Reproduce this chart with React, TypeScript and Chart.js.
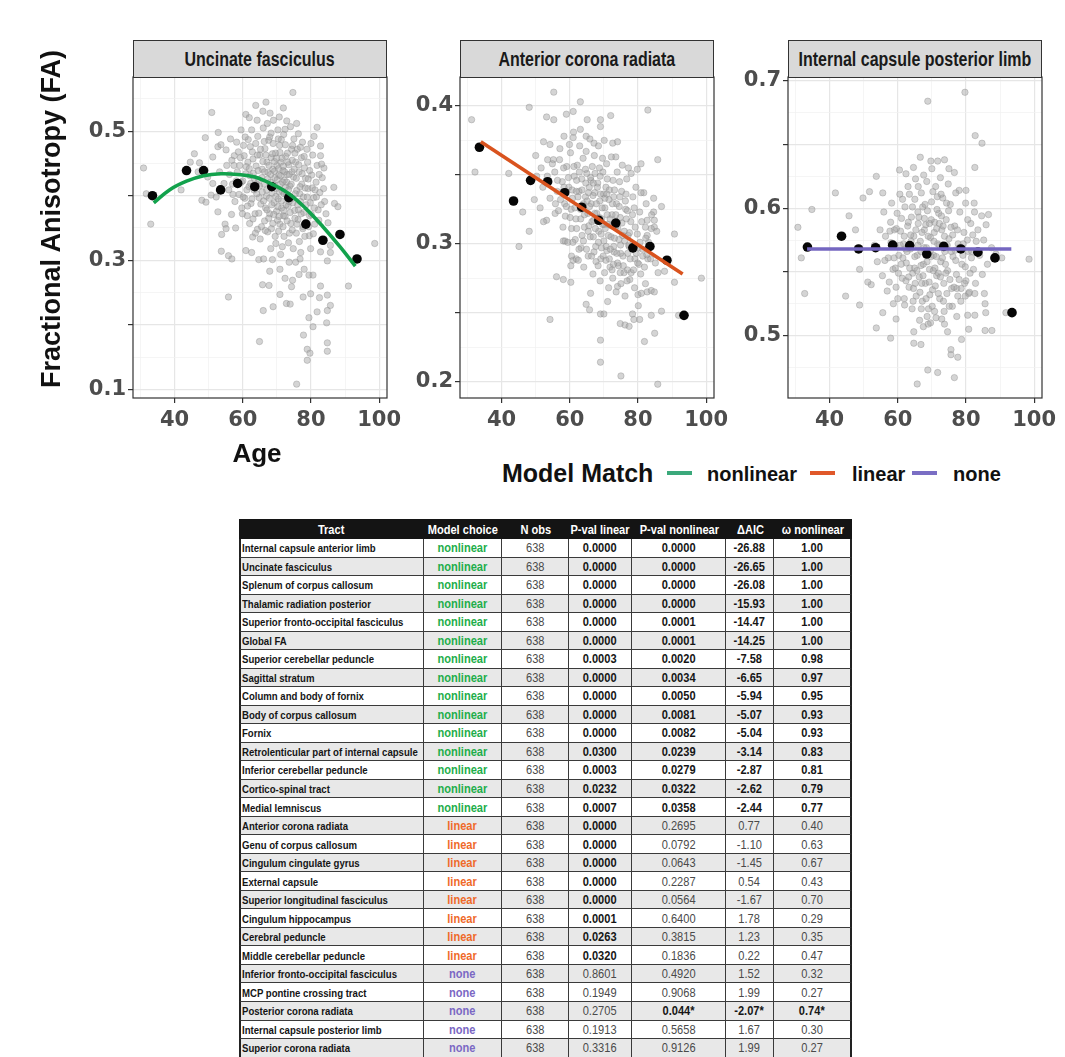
import React, { useEffect, useRef } from 'react';
import { Chart, registerables } from 'chart.js';

Chart.register(...registerables);

// ---------------- DATA ----------------
const AGE_GRID = [30, 40, 50, 60, 70, 80, 90, 100];
const AGE_MAJOR = [40, 60, 80, 100];
const AGE_LABELS = [40, 60, 80, 100];

const BIN_AGES = [33.5, 43.5, 48.5, 53.5, 58.5, 63.5, 68.5, 73.5, 78.5, 83.5, 88.5, 93.5];

// Uncinate fasciculus
const UF_BIN_FA = [0.400, 0.439, 0.439, 0.409, 0.419, 0.414, 0.414, 0.397, 0.356, 0.331, 0.340, 0.302];
const UF_FIT_AGE = [33.9, 38.5, 43.5, 48.5, 53.5, 58.5, 63.5, 68.5, 73.5, 78.5, 83.5, 88.5, 93.0];
const UF_FIT_FA = [0.389, 0.409, 0.4225, 0.431, 0.434, 0.433, 0.429, 0.418, 0.403, 0.380, 0.352, 0.321, 0.291];
const UF_Y_GRID = [0.1, 0.15, 0.2, 0.25, 0.3, 0.35, 0.4, 0.45, 0.5, 0.55];
const UF_Y_MAJOR = [0.1, 0.2, 0.3, 0.4, 0.5];
const UF_Y_LABELS = [0.1, 0.3, 0.5];
const UF_POINTS: number[][] = [
  [30.9, 0.443], [33.0, 0.356], [31.7, 0.403], [50.9, 0.529], [52.8, 0.498], [49.0, 0.490], [41.9, 0.409], [48.0, 0.393],
  [49.2, 0.390], [52.7, 0.375], [54.8, 0.356], [55.1, 0.349], [53.8, 0.340], [57.9, 0.350], [53.7, 0.314], [55.8, 0.307],
  [56.8, 0.302], [55.8, 0.243], [60.9, 0.315], [62.6, 0.312], [64.7, 0.301], [64.9, 0.174], [65.8, 0.262], [67.7, 0.261],
  [66.0, 0.222], [68.9, 0.228], [67.9, 0.283], [70.9, 0.286], [70.9, 0.247], [72.8, 0.233], [73.9, 0.232], [72.4, 0.272],
  [74.3, 0.259], [74.6, 0.269], [75.8, 0.108], [74.7, 0.560], [71.9, 0.536], [66.8, 0.545], [63.8, 0.540], [60.9, 0.526],
  [75.8, 0.512], [81.8, 0.506], [80.9, 0.492], [82.8, 0.477], [82.8, 0.462], [83.8, 0.443], [86.7, 0.413], [86.9, 0.388],
  [87.9, 0.383], [85.0, 0.358], [85.7, 0.323], [85.7, 0.312], [84.8, 0.299], [82.8, 0.313], [82.8, 0.260], [82.5, 0.242],
  [84.8, 0.246], [85.7, 0.230], [84.8, 0.222], [81.8, 0.220], [84.6, 0.203], [80.6, 0.197], [79.4, 0.211], [77.8, 0.184],
  [78.9, 0.162], [79.7, 0.156], [78.9, 0.145], [84.8, 0.172], [84.8, 0.159], [79.9, 0.248], [77.7, 0.243], [79.4, 0.277],
  [80.6, 0.277], [78.0, 0.286], [76.5, 0.278], [91.0, 0.260], [98.7, 0.326], [79.9, 0.318], [76.8, 0.302], [75.5, 0.297],
  [73.6, 0.297], [71.6, 0.321], [69.7, 0.326], [68.7, 0.301], [64.3, 0.348], [62.9, 0.336],
  [45.8, 0.465], [47.3, 0.451], [51.2, 0.460], [52.7, 0.476], [53.6, 0.479], [55.1, 0.471], [49.7, 0.429], [51.2, 0.419],
  [52.2, 0.398], [50.7, 0.401], [56.4, 0.488], [57.5, 0.462], [46.9, 0.437], [44.6, 0.452],
  [60.2, 0.478], [61.5, 0.452], [62.1, 0.431], [62.8, 0.468], [63.3, 0.409], [63.9, 0.446], [64.4, 0.492], [64.6, 0.425],
  [65.0, 0.463], [65.3, 0.387], [65.7, 0.441], [66.0, 0.505], [66.2, 0.418], [66.5, 0.473], [66.9, 0.399], [67.1, 0.452],
  [67.4, 0.436], [67.6, 0.486], [67.9, 0.372], [68.1, 0.421], [68.3, 0.459], [68.6, 0.404], [68.8, 0.441], [69.0, 0.517],
  [69.2, 0.389], [69.4, 0.428], [69.6, 0.466], [69.8, 0.411], [70.0, 0.447], [70.2, 0.362], [70.4, 0.395], [70.6, 0.432],
  [70.8, 0.478], [71.0, 0.418], [71.2, 0.452], [71.4, 0.381], [71.6, 0.407], [71.8, 0.439], [72.0, 0.495], [72.2, 0.424],
  [72.4, 0.368], [72.6, 0.461], [72.8, 0.401], [73.0, 0.433], [73.3, 0.384], [73.5, 0.448], [73.8, 0.415], [74.1, 0.357],
  [74.3, 0.472], [74.6, 0.396], [74.9, 0.429], [75.2, 0.377], [75.5, 0.452], [75.8, 0.408], [76.2, 0.363], [76.5, 0.437],
  [76.9, 0.391], [77.3, 0.418], [77.7, 0.352], [78.1, 0.443], [78.6, 0.386], [79.1, 0.411], [79.6, 0.369], [80.2, 0.432],
  [80.8, 0.397], [81.5, 0.421], [82.1, 0.378],
  [58.4, 0.437], [58.9, 0.402], [59.3, 0.459], [59.7, 0.381], [60.0, 0.423], [60.6, 0.396], [61.0, 0.445], [61.3, 0.369],
  [61.8, 0.414], [62.4, 0.388], [62.6, 0.502], [63.1, 0.435], [63.6, 0.372], [64.0, 0.418], [64.8, 0.397], [65.5, 0.352],
  [66.7, 0.381], [67.2, 0.512], [67.8, 0.396], [68.4, 0.349], [68.9, 0.481], [69.3, 0.453], [69.9, 0.376], [70.3, 0.502],
  [70.9, 0.356], [71.3, 0.487], [71.9, 0.369], [72.5, 0.413], [73.1, 0.466], [73.7, 0.342], [74.4, 0.437], [75.0, 0.488],
  [75.7, 0.342], [76.0, 0.472], [76.7, 0.403], [77.2, 0.459], [77.9, 0.374], [78.4, 0.427], [79.0, 0.452], [79.5, 0.338],
  [80.5, 0.463], [81.1, 0.356], [81.8, 0.447], [82.6, 0.405], [83.3, 0.428], [84.0, 0.391], [57.0, 0.418], [56.1, 0.433],
  [55.3, 0.447], [54.5, 0.419], [53.2, 0.437], [57.7, 0.391], [56.7, 0.371], [59.5, 0.502], [58.2, 0.483], [61.9, 0.521],
  [64.2, 0.517], [65.9, 0.531], [68.0, 0.528], [70.7, 0.522], [72.9, 0.516], [74.0, 0.507], [76.3, 0.496], [77.5, 0.483],
  [78.8, 0.472], [80.0, 0.481], [62.0, 0.357], [63.7, 0.342], [65.1, 0.333], [66.4, 0.361], [67.3, 0.344], [69.5, 0.337],
  [70.5, 0.345], [72.1, 0.337], [73.4, 0.327], [74.8, 0.318], [76.6, 0.329], [78.2, 0.337], [77.0, 0.312], [68.2, 0.318],
  [66.1, 0.302], [71.1, 0.309],
  [59.1, 0.447], [59.6, 0.421], [60.1, 0.398], [60.4, 0.462], [60.9, 0.434], [61.2, 0.409], [61.6, 0.487], [61.9, 0.442],
  [62.3, 0.419], [62.7, 0.395], [63.0, 0.457], [63.4, 0.427], [63.8, 0.481], [64.1, 0.403], [64.5, 0.439], [64.9, 0.415],
  [65.2, 0.472], [65.6, 0.428], [65.9, 0.453], [66.1, 0.392], [66.4, 0.437], [66.8, 0.463], [67.0, 0.409], [67.3, 0.426],
  [67.7, 0.447], [67.9, 0.491], [68.2, 0.433], [68.5, 0.386], [68.7, 0.465], [69.1, 0.417], [69.3, 0.438], [69.7, 0.399],
  [69.9, 0.458], [70.1, 0.425], [70.3, 0.383], [70.5, 0.442], [70.7, 0.406], [70.9, 0.467], [71.1, 0.431], [71.3, 0.392],
  [71.5, 0.458], [71.7, 0.421], [71.9, 0.446], [72.1, 0.403], [72.3, 0.437], [72.5, 0.479], [72.7, 0.386], [72.9, 0.421],
  [73.2, 0.452], [73.4, 0.409], [73.6, 0.433], [73.9, 0.374], [74.2, 0.418], [74.5, 0.455], [74.7, 0.389], [75.1, 0.441],
  [75.4, 0.403], [75.7, 0.427], [76.1, 0.386], [76.4, 0.448], [76.8, 0.414], [77.1, 0.372], [77.4, 0.434], [77.8, 0.398],
  [78.3, 0.412], [78.7, 0.358], [79.2, 0.426], [79.8, 0.389], [80.4, 0.412], [81.0, 0.381], [81.6, 0.398], [82.3, 0.362],
  [83.0, 0.386], [83.7, 0.411], [84.4, 0.372], [66.3, 0.484], [68.3, 0.497], [70.4, 0.488], [72.4, 0.503], [74.6, 0.478],
  [64.3, 0.463], [62.2, 0.476], [60.7, 0.491], [58.7, 0.468], [57.4, 0.447], [56.8, 0.455], [55.9, 0.409], [57.1, 0.402],
  [58.1, 0.423], [59.9, 0.372], [61.4, 0.384], [63.0, 0.364], [64.7, 0.373], [66.6, 0.346], [67.6, 0.365], [68.8, 0.357],
  [70.6, 0.368], [71.8, 0.352], [73.0, 0.361], [74.5, 0.347], [75.9, 0.356], [77.6, 0.349], [79.3, 0.352], [80.7, 0.341],
  [65.7, 0.406], [67.1, 0.378], [69.1, 0.371], [72.0, 0.377], [73.6, 0.391], [75.3, 0.365], [76.3, 0.378], [78.9, 0.398],
  [80.1, 0.371], [81.2, 0.409], [82.4, 0.433], [83.1, 0.449], [79.6, 0.439], [78.0, 0.461], [76.9, 0.475], [75.3, 0.466],
];

// Anterior corona radiata
const ACR_BIN_FA = [0.370, 0.331, 0.346, 0.345, 0.337, 0.3265, 0.317, 0.315, 0.297, 0.298, 0.288, 0.248];
const ACR_FIT_AGE = [33.9, 93.1];
const ACR_FIT_FA = [0.374, 0.278];
const ACR_Y_GRID = [0.2, 0.225, 0.25, 0.275, 0.3, 0.325, 0.35, 0.375, 0.4];
const ACR_Y_MAJOR = [0.2, 0.25, 0.3, 0.35, 0.4];
const ACR_Y_LABELS = [0.2, 0.3, 0.4];
const ACR_POINTS: number[][] = [
  [31.2, 0.390], [32.2, 0.352], [42.1, 0.351], [46.2, 0.323], [48.1, 0.399], [48.1, 0.309], [45.1, 0.298], [50.0, 0.364],
  [53.2, 0.392], [55.3, 0.410], [55.3, 0.390], [59.0, 0.394], [61.0, 0.396], [63.1, 0.403], [65.1, 0.390], [69.0, 0.390],
  [69.0, 0.385], [72.0, 0.393], [82.9, 0.397], [85.8, 0.361], [54.2, 0.245], [90.7, 0.307], [90.7, 0.272], [98.6, 0.275],
  [91.9, 0.248], [86.9, 0.251], [83.9, 0.248], [84.9, 0.235], [81.9, 0.229], [85.8, 0.198], [75.0, 0.204], [69.0, 0.214],
  [69.0, 0.230], [69.0, 0.249], [70.0, 0.249], [65.8, 0.252], [64.8, 0.256], [66.1, 0.264], [71.1, 0.258], [74.0, 0.269],
  [74.8, 0.242], [76.2, 0.241], [77.4, 0.240], [78.4, 0.249], [80.5, 0.245], [78.8, 0.245], [80.1, 0.255], [80.0, 0.263],
  [81.0, 0.264], [82.7, 0.265], [83.9, 0.266], [84.8, 0.265], [82.2, 0.271], [85.9, 0.279], [87.8, 0.280], [85.1, 0.286],
  [82.9, 0.289], [60.5, 0.311], [58.1, 0.302], [58.6, 0.302], [56.1, 0.276], [58.1, 0.274], [60.3, 0.272], [60.3, 0.284],
  [61.0, 0.288], [61.9, 0.289], [53.2, 0.317], [52.3, 0.316], [55.7, 0.322], [58.7, 0.320], [49.6, 0.332], [51.3, 0.326],
  [50.3, 0.349], [51.6, 0.355], [53.5, 0.361], [55.2, 0.361], [57.1, 0.369], [54.2, 0.372], [52.3, 0.374], [58.3, 0.378],
  [61.0, 0.377], [63.1, 0.383], [64.8, 0.378], [67.1, 0.373], [70.1, 0.375], [72.6, 0.373], [74.0, 0.374], [73.5, 0.363],
  [77.2, 0.355], [79.8, 0.354], [80.9, 0.358], [81.7, 0.337], [84.6, 0.333], [86.9, 0.327], [84.6, 0.323], [84.8, 0.317],
  [84.8, 0.312], [82.7, 0.317], [82.7, 0.306],
  [55.6, 0.352], [56.3, 0.338], [57.0, 0.361], [57.8, 0.345], [58.5, 0.329], [59.1, 0.356], [59.7, 0.341], [60.2, 0.366],
  [60.8, 0.333], [61.3, 0.349], [61.8, 0.318], [62.2, 0.357], [62.7, 0.338], [63.1, 0.325], [63.5, 0.347], [63.9, 0.362],
  [64.3, 0.312], [64.6, 0.334], [65.0, 0.351], [65.3, 0.322], [65.7, 0.341], [66.0, 0.305], [66.3, 0.329], [66.6, 0.356],
  [67.0, 0.317], [67.3, 0.337], [67.6, 0.298], [67.9, 0.322], [68.2, 0.344], [68.5, 0.309], [68.8, 0.331], [69.1, 0.289],
  [69.4, 0.318], [69.7, 0.352], [70.0, 0.302], [70.3, 0.326], [70.6, 0.341], [70.9, 0.295], [71.2, 0.314], [71.5, 0.332],
  [71.8, 0.283], [72.1, 0.305], [72.4, 0.321], [72.7, 0.346], [73.0, 0.294], [73.3, 0.312], [73.7, 0.329], [74.0, 0.286],
  [74.4, 0.303], [74.8, 0.319], [75.2, 0.338], [75.6, 0.291], [76.0, 0.309], [76.4, 0.325], [76.9, 0.281], [77.4, 0.298],
  [77.9, 0.316], [78.5, 0.334], [79.1, 0.289], [79.8, 0.307], [80.5, 0.323], [81.3, 0.296], [82.2, 0.312], [83.1, 0.301],
  [52.1, 0.341], [53.4, 0.349], [54.2, 0.333], [54.9, 0.358], [56.7, 0.324], [58.0, 0.312], [59.4, 0.301], [60.5, 0.291],
  [61.6, 0.303], [62.5, 0.288], [63.3, 0.297], [64.1, 0.283], [65.4, 0.291], [66.8, 0.278], [67.7, 0.287], [68.9, 0.273],
  [70.2, 0.279], [71.4, 0.268], [72.6, 0.275], [73.6, 0.265], [75.0, 0.271], [76.2, 0.262], [77.6, 0.274], [79.0, 0.268],
  [80.8, 0.278], [59.9, 0.372], [61.1, 0.381], [62.9, 0.371], [64.8, 0.367], [65.9, 0.376], [67.2, 0.364], [68.4, 0.371],
  [69.6, 0.362], [70.8, 0.358], [72.2, 0.363], [73.9, 0.352], [75.4, 0.357], [76.7, 0.347], [78.0, 0.351], [79.4, 0.341],
  [80.9, 0.337], [82.4, 0.329], [84.0, 0.321], [85.5, 0.309], [83.7, 0.289], [81.9, 0.283], [66.2, 0.346], [68.7, 0.355],
  [71.0, 0.347], [73.1, 0.339], [74.6, 0.345], [76.5, 0.336], [78.9, 0.326], [77.1, 0.306], [75.9, 0.279], [74.3, 0.284],
  [69.9, 0.336], [67.4, 0.351], [64.0, 0.329], [62.0, 0.346], [60.4, 0.325], [58.8, 0.338], [65.6, 0.313], [70.4, 0.311],
  [72.9, 0.298], [69.3, 0.297], [66.9, 0.305], [63.6, 0.306], [71.6, 0.289], [74.9, 0.293], [77.7, 0.289], [80.1, 0.297],
  [58.3, 0.341], [59.0, 0.327], [59.6, 0.348], [60.1, 0.319], [60.7, 0.339], [61.2, 0.356], [61.5, 0.326], [62.0, 0.311],
  [62.4, 0.334], [62.8, 0.352], [63.2, 0.318], [63.6, 0.339], [64.0, 0.302], [64.3, 0.321], [64.7, 0.344], [65.1, 0.331],
  [65.4, 0.309], [65.8, 0.327], [66.1, 0.348], [66.5, 0.316], [66.8, 0.335], [67.1, 0.294], [67.5, 0.311], [67.8, 0.329],
  [68.1, 0.341], [68.4, 0.301], [68.7, 0.319], [69.0, 0.336], [69.2, 0.307], [69.5, 0.326], [69.8, 0.291], [70.1, 0.314],
  [70.3, 0.333], [70.7, 0.298], [71.0, 0.321], [71.3, 0.306], [71.6, 0.339], [71.9, 0.296], [72.2, 0.313], [72.5, 0.329],
  [72.8, 0.285], [73.1, 0.304], [73.5, 0.321], [73.8, 0.293], [74.1, 0.311], [74.5, 0.327], [74.9, 0.299], [75.3, 0.315],
  [75.7, 0.284], [76.1, 0.302], [76.6, 0.318], [77.0, 0.293], [77.5, 0.308], [78.0, 0.279], [78.6, 0.296], [79.2, 0.312],
  [79.9, 0.286], [80.6, 0.301], [81.4, 0.291], [82.3, 0.304], [61.9, 0.338], [63.8, 0.327], [65.5, 0.337], [67.3, 0.322],
  [69.6, 0.314], [71.8, 0.318], [73.4, 0.312], [75.5, 0.306], [77.3, 0.299], [79.5, 0.293], [64.6, 0.354], [66.9, 0.344],
  [68.9, 0.349], [70.9, 0.336], [72.9, 0.334], [74.7, 0.334], [76.9, 0.324], [58.2, 0.355], [57.3, 0.332], [56.4, 0.346],
  [55.8, 0.329], [60.9, 0.301], [62.7, 0.296], [64.9, 0.296], [66.4, 0.291], [68.3, 0.284], [70.6, 0.288], [72.4, 0.281],
  [74.8, 0.279], [76.8, 0.273], [78.7, 0.281], [80.3, 0.285], [82.6, 0.292], [83.9, 0.311], [81.1, 0.316], [78.4, 0.321],
  [76.3, 0.331],
];

// Internal capsule posterior limb
const ICPL_BIN_FA = [0.5695, 0.578, 0.568, 0.569, 0.571, 0.5707, 0.564, 0.570, 0.568, 0.5655, 0.561, 0.518];
const ICPL_FIT_AGE = [33.4, 93.3];
const ICPL_FIT_FA = [0.568, 0.568];
const ICPL_Y_GRID = [0.475, 0.5, 0.525, 0.55, 0.575, 0.6, 0.625, 0.65, 0.675, 0.7];
const ICPL_Y_MAJOR = [0.5, 0.55, 0.6, 0.65, 0.7];
const ICPL_Y_LABELS = [0.5, 0.6, 0.7];
const ICPL_POINTS: number[][] = [
  [30.7, 0.585], [31.7, 0.561], [32.7, 0.533], [34.8, 0.599], [41.7, 0.612], [45.7, 0.594], [44.7, 0.531], [47.6, 0.583],
  [48.8, 0.552], [48.8, 0.524], [49.8, 0.608], [51.7, 0.613], [53.7, 0.625], [53.7, 0.506], [52.2, 0.540], [51.2, 0.542],
  [55.6, 0.612], [57.9, 0.498], [58.7, 0.525], [55.6, 0.518], [59.5, 0.513], [60.5, 0.630], [62.4, 0.627], [64.6, 0.632],
  [66.6, 0.640], [68.8, 0.684], [79.7, 0.691], [82.7, 0.657], [84.7, 0.651], [82.6, 0.632], [69.7, 0.637], [71.7, 0.637],
  [73.7, 0.638], [75.0, 0.631], [76.6, 0.628], [78.0, 0.614], [80.0, 0.614], [82.4, 0.604], [84.6, 0.594], [86.6, 0.595],
  [85.9, 0.587], [88.8, 0.564], [90.5, 0.561], [98.5, 0.560], [91.7, 0.518], [85.6, 0.504], [87.6, 0.504], [85.8, 0.518],
  [85.6, 0.525], [82.6, 0.516], [80.5, 0.516], [80.8, 0.505], [78.7, 0.497], [77.6, 0.483], [76.6, 0.467], [75.6, 0.489],
  [75.6, 0.485], [74.6, 0.503], [73.7, 0.509], [71.7, 0.471], [68.8, 0.473], [65.7, 0.462], [66.8, 0.493], [64.7, 0.494],
  [64.7, 0.503], [67.5, 0.507], [69.6, 0.510], [77.3, 0.515], [79.8, 0.531], [80.8, 0.533], [82.6, 0.533], [85.4, 0.533],
  [77.3, 0.537],
  [56.4, 0.578], [57.2, 0.561], [57.9, 0.589], [58.6, 0.552], [59.2, 0.571], [59.8, 0.596], [60.3, 0.563], [60.8, 0.582],
  [61.3, 0.545], [61.7, 0.572], [62.1, 0.601], [62.5, 0.557], [62.9, 0.586], [63.3, 0.538], [63.7, 0.568], [64.0, 0.593],
  [64.4, 0.549], [64.7, 0.578], [65.0, 0.607], [65.4, 0.531], [65.7, 0.563], [66.0, 0.588], [66.3, 0.546], [66.6, 0.574],
  [66.9, 0.612], [67.2, 0.527], [67.5, 0.556], [67.8, 0.583], [68.1, 0.541], [68.4, 0.569], [68.7, 0.598], [69.0, 0.521],
  [69.3, 0.552], [69.6, 0.577], [69.9, 0.605], [70.2, 0.536], [70.5, 0.563], [70.8, 0.589], [71.1, 0.617], [71.4, 0.547],
  [71.7, 0.572], [72.0, 0.596], [72.3, 0.529], [72.6, 0.558], [72.9, 0.583], [73.2, 0.608], [73.5, 0.541], [73.8, 0.566],
  [74.2, 0.591], [74.6, 0.551], [75.0, 0.576], [75.4, 0.603], [75.8, 0.537], [76.2, 0.562], [76.7, 0.586], [77.2, 0.548],
  [77.7, 0.572], [78.2, 0.597], [78.8, 0.556], [79.4, 0.581], [80.0, 0.543], [80.7, 0.566], [81.4, 0.588], [82.2, 0.552],
  [83.0, 0.574],
  [53.2, 0.571], [54.0, 0.558], [54.8, 0.583], [55.5, 0.547], [56.9, 0.535], [58.2, 0.604], [59.5, 0.538], [60.6, 0.611],
  [61.9, 0.529], [63.0, 0.617], [64.2, 0.521], [65.2, 0.623], [66.4, 0.512], [67.6, 0.626], [68.9, 0.509], [70.0, 0.631],
  [71.2, 0.514], [72.5, 0.624], [73.6, 0.519], [74.8, 0.619], [76.0, 0.523], [77.0, 0.612], [78.5, 0.527], [79.9, 0.604],
  [81.0, 0.534], [82.5, 0.597], [84.0, 0.563], [85.2, 0.575], [86.3, 0.556], [87.5, 0.569], [55.9, 0.597], [57.5, 0.542],
  [59.0, 0.583], [61.0, 0.556], [63.8, 0.579], [65.9, 0.597], [67.0, 0.541], [68.2, 0.587], [69.4, 0.532], [70.6, 0.574],
  [71.9, 0.549], [73.0, 0.571], [74.4, 0.533], [75.6, 0.585], [76.8, 0.567], [78.0, 0.544], [79.1, 0.563], [80.4, 0.575],
  [81.7, 0.566], [82.8, 0.541], [69.8, 0.562], [70.9, 0.553], [68.0, 0.566], [66.8, 0.555], [72.2, 0.588], [74.0, 0.556],
  [62.3, 0.568], [64.9, 0.553], [67.3, 0.601], [71.5, 0.599],
  [58.0, 0.573], [58.9, 0.561], [59.6, 0.584], [60.2, 0.549], [60.7, 0.571], [61.1, 0.592], [61.5, 0.561], [61.9, 0.578],
  [62.4, 0.543], [62.7, 0.566], [63.1, 0.589], [63.5, 0.553], [63.9, 0.574], [64.3, 0.601], [64.6, 0.537], [65.0, 0.562],
  [65.3, 0.583], [65.6, 0.551], [65.9, 0.571], [66.2, 0.593], [66.5, 0.534], [66.8, 0.566], [67.1, 0.581], [67.4, 0.547],
  [67.7, 0.569], [68.0, 0.603], [68.3, 0.529], [68.6, 0.558], [68.9, 0.578], [69.2, 0.542], [69.5, 0.566], [69.8, 0.591],
  [70.1, 0.523], [70.4, 0.551], [70.7, 0.581], [71.0, 0.539], [71.3, 0.562], [71.6, 0.609], [71.9, 0.533], [72.2, 0.571],
  [72.5, 0.546], [72.8, 0.594], [73.1, 0.561], [73.4, 0.527], [73.7, 0.578], [74.1, 0.549], [74.5, 0.571], [74.9, 0.598],
  [75.3, 0.544], [75.7, 0.566], [76.1, 0.579], [76.5, 0.538], [77.0, 0.559], [77.5, 0.583], [78.0, 0.569], [78.6, 0.537],
  [79.2, 0.572], [79.8, 0.554], [80.5, 0.591], [81.2, 0.549], [82.0, 0.579], [66.0, 0.617], [68.5, 0.621], [70.3, 0.613],
  [72.7, 0.611], [74.3, 0.604], [63.4, 0.611], [61.4, 0.607], [59.3, 0.553], [57.7, 0.582], [56.2, 0.559], [60.0, 0.529],
  [62.0, 0.524], [64.5, 0.527], [66.9, 0.521], [68.6, 0.515], [70.8, 0.519], [72.9, 0.513], [75.1, 0.523], [77.6, 0.531],
  [79.6, 0.541], [81.6, 0.561], [83.5, 0.583], [84.8, 0.548], [69.3, 0.588], [71.4, 0.584], [73.3, 0.586], [67.8, 0.592],
  [65.1, 0.541], [63.2, 0.546],
];

// Legend
const LEGEND_TITLE = 'Model Match';
const LEGEND_ITEMS = ['nonlinear', 'linear', 'none'];

// Table
const TABLE_HEADERS = ['Tract', 'Model choice', 'N obs', 'P-val linear', 'P-val nonlinear', '\u0394AIC', '\u03c9 nonlinear'];
const TRACTS = [
  'Internal capsule anterior limb', 'Uncinate fasciculus', 'Splenum of corpus callosum', 'Thalamic radiation posterior',
  'Superior fronto-occipital fasciculus', 'Global FA', 'Superior cerebellar peduncle', 'Sagittal stratum',
  'Column and body of fornix', 'Body of corpus callosum', 'Fornix', 'Retrolenticular part of internal capsule',
  'Inferior cerebellar peduncle', 'Cortico-spinal tract', 'Medial lemniscus', 'Anterior corona radiata',
  'Genu of corpus callosum', 'Cingulum cingulate gyrus', 'External capsule', 'Superior longitudinal fasciculus',
  'Cingulum hippocampus', 'Cerebral peduncle', 'Middle cerebellar peduncle', 'Inferior fronto-occipital fasciculus',
  'MCP pontine crossing tract', 'Posterior corona radiata', 'Internal capsule posterior limb', 'Superior corona radiata',
];
const MODEL_CHOICE = [
  'nonlinear', 'nonlinear', 'nonlinear', 'nonlinear', 'nonlinear', 'nonlinear', 'nonlinear', 'nonlinear',
  'nonlinear', 'nonlinear', 'nonlinear', 'nonlinear', 'nonlinear', 'nonlinear', 'nonlinear', 'linear',
  'linear', 'linear', 'linear', 'linear', 'linear', 'linear', 'linear', 'none',
  'none', 'none', 'none', 'none',
];
const N_OBS = [638, 638, 638, 638, 638, 638, 638, 638, 638, 638, 638, 638, 638, 638, 638, 638, 638, 638, 638, 638, 638, 638, 638, 638, 638, 638, 638, 638];
const P_LINEAR = [
  '0.0000', '0.0000', '0.0000', '0.0000', '0.0000', '0.0000', '0.0003', '0.0000', '0.0000', '0.0000', '0.0000', '0.0300',
  '0.0003', '0.0232', '0.0007', '0.0000', '0.0000', '0.0000', '0.0000', '0.0000', '0.0001', '0.0263', '0.0320', '0.8601',
  '0.1949', '0.2705', '0.1913', '0.3316',
];
const P_NONLINEAR = [
  '0.0000', '0.0000', '0.0000', '0.0000', '0.0001', '0.0001', '0.0020', '0.0034', '0.0050', '0.0081', '0.0082', '0.0239',
  '0.0279', '0.0322', '0.0358', '0.2695', '0.0792', '0.0643', '0.2287', '0.0564', '0.6400', '0.3815', '0.1836', '0.4920',
  '0.9068', '0.044*', '0.5658', '0.9126',
];
const DELTA_AIC = [
  '-26.88', '-26.65', '-26.08', '-15.93', '-14.47', '-14.25', '-7.58', '-6.65', '-5.94', '-5.07', '-5.04', '-3.14',
  '-2.87', '-2.62', '-2.44', '0.77', '-1.10', '-1.45', '0.54', '-1.67', '1.78', '1.23', '0.22', '1.52',
  '1.99', '-2.07*', '1.67', '1.99',
];
const OMEGA_NONLINEAR = [
  '1.00', '1.00', '1.00', '1.00', '1.00', '1.00', '0.98', '0.97', '0.95', '0.93', '0.93', '0.83',
  '0.81', '0.79', '0.77', '0.40', '0.63', '0.67', '0.43', '0.70', '0.29', '0.35', '0.47', '0.32',
  '0.27', '0.74*', '0.30', '0.27',
];

// ---------------- STYLE ----------------
const LINE_COLORS: Record<string, string> = { nonlinear: '#12a24c', linear: '#d9531e', none: '#7466c0' };
const LEGEND_COLORS: Record<string, string> = { nonlinear: '#3ba97b', linear: '#e0582a', none: '#7a6ec4' };
const TABLE_COLORS: Record<string, string> = { nonlinear: '#1eae4b', linear: '#ef6a2a', none: '#7b68c4' };

const SANS = '"Liberation Sans", Arial, sans-serif';
const TICK_FONT = 'DejaVu Sans';
const NARROW_SCALE = 0.82;

const PLOT_TOP = 77;
const PLOT_W = 254;
const PLOT_H = 321;
const YAXIS_W = 70;
const XAXIS_H = 45;
const PAD_TOP = 20;
const PAD_RIGHT = 26;
const X_MIN = 27.8;
const X_MAX = 102.3;

const near = (a: number, list: number[]) => list.some((v) => Math.abs(v - a) < 1e-6);

function Narrow({ children, origin = 'center' }: { children: any; origin?: string }) {
  return (
    <span style={{ display: 'inline-block', transform: `scaleX(${NARROW_SCALE})`, transformOrigin: origin, whiteSpace: 'nowrap' }}>
      {children}
    </span>
  );
}

const borderPlugin = {
  id: 'panelBorder',
  afterDraw(chart: any) {
    const { ctx, chartArea: a } = chart;
    ctx.save();
    ctx.strokeStyle = '#333333';
    ctx.lineWidth = 1.2;
    ctx.strokeRect(a.left, a.top, a.right - a.left, a.bottom - a.top);
    ctx.restore();
  },
};

type PanelCfg = {
  title: string;
  left: number;
  yMin: number;
  yMax: number;
  yGrid: number[];
  yMajor: number[];
  yLabels: number[];
  points: number[][];
  binFA: number[];
  fitAge: number[];
  fitFA: number[];
  color: string;
  tension: number;
};

function Panel({ cfg }: { cfg: PanelCfg }) {
  const ref = useRef<HTMLCanvasElement>(null);
  const W = YAXIS_W + PLOT_W + PAD_RIGHT;
  const H = PAD_TOP + PLOT_H + XAXIS_H;
  useEffect(() => {
    if (!ref.current) return;
    const tickFont = { family: TICK_FONT, weight: 'bold' as const, size: 21 };
    const chart = new Chart(ref.current, {
      type: 'scatter',
      data: {
        datasets: [
          {
            type: 'line',
            data: cfg.fitAge.map((x, i) => ({ x, y: cfg.fitFA[i] })),
            borderColor: cfg.color,
            borderWidth: 3.6,
            pointRadius: 0,
            tension: cfg.tension,
            fill: false,
            order: 0,
          } as any,
          {
            data: BIN_AGES.map((x, i) => ({ x, y: cfg.binFA[i] })),
            backgroundColor: '#050505',
            borderWidth: 0,
            pointRadius: 4.8,
            order: 1,
          },
          {
            data: cfg.points.map(([x, y]) => ({ x, y })),
            backgroundColor: 'rgba(165,165,165,0.48)',
            borderColor: 'rgba(135,135,135,0.45)',
            borderWidth: 0.8,
            pointRadius: 3.2,
            order: 2,
          },
        ],
      },
      options: {
        animation: false,
        responsive: false,
        maintainAspectRatio: false,
        layout: { padding: { top: PAD_TOP, right: PAD_RIGHT, left: 0, bottom: 0 } },
        plugins: { legend: { display: false }, tooltip: { enabled: false } },
        events: [],
        scales: {
          x: {
            type: 'linear',
            min: X_MIN,
            max: X_MAX,
            afterBuildTicks: (s: any) => { s.ticks = AGE_GRID.map((v) => ({ value: v })); },
            afterFit: (s: any) => { s.height = XAXIS_H; },
            border: { display: false },
            grid: {
              color: (c: any) => (near(c.tick?.value, AGE_MAJOR) ? '#e6e6e6' : '#f1f1f1'),
              lineWidth: (c: any) => (near(c.tick?.value, AGE_MAJOR) ? 1.2 : 0.7),
              tickColor: (c: any) => (near(c.tick?.value, AGE_MAJOR) ? '#333333' : 'rgba(0,0,0,0)'),
              tickLength: 5,
            },
            ticks: {
              autoSkip: false,
              maxRotation: 0,
              minRotation: 0,
              padding: 5,
              color: '#4d4d4d',
              font: tickFont,
              callback: (v: any) => (near(Number(v), AGE_LABELS) ? String(v) : ''),
            },
          },
          y: {
            type: 'linear',
            min: cfg.yMin,
            max: cfg.yMax,
            afterBuildTicks: (s: any) => { s.ticks = cfg.yGrid.map((v) => ({ value: v })); },
            afterFit: (s: any) => { s.width = YAXIS_W; },
            border: { display: false },
            grid: {
              color: (c: any) => (near(c.tick?.value, cfg.yMajor) ? '#e6e6e6' : '#f1f1f1'),
              lineWidth: (c: any) => (near(c.tick?.value, cfg.yMajor) ? 1.2 : 0.7),
              tickColor: (c: any) => (near(c.tick?.value, cfg.yMajor) ? '#333333' : 'rgba(0,0,0,0)'),
              tickLength: 5,
            },
            ticks: {
              autoSkip: false,
              padding: 2,
              color: '#4d4d4d',
              font: tickFont,
              callback: (v: any) => (near(Number(v), cfg.yLabels) ? Number(v).toFixed(1) : ''),
            },
          },
        },
      },
      plugins: [borderPlugin],
    });
    return () => chart.destroy();
  }, []);
  return (
    <>
      <canvas
        ref={ref}
        width={W}
        height={H}
        style={{ position: 'absolute', left: cfg.left - YAXIS_W, top: PLOT_TOP - PAD_TOP, width: W, height: H }}
      />
      <div
        style={{
          position: 'absolute',
          left: cfg.left,
          top: 40,
          width: PLOT_W,
          height: 38,
          boxSizing: 'border-box',
          background: '#d9d9d9',
          border: '1.2px solid #333',
          display: 'flex',
          alignItems: 'center',
          justifyContent: 'center',
          fontFamily: SANS,
          fontWeight: 'bold',
          fontSize: 19.5,
          color: '#1a1a1a',
          whiteSpace: 'nowrap',
        }}
      >
        <Narrow>{cfg.title}</Narrow>
      </div>
    </>
  );
}

const PANELS: PanelCfg[] = [
  {
    title: 'Uncinate fasciculus', left: 133, yMin: 0.0865, yMax: 0.584,
    yGrid: UF_Y_GRID, yMajor: UF_Y_MAJOR, yLabels: UF_Y_LABELS, points: UF_POINTS, binFA: UF_BIN_FA,
    fitAge: UF_FIT_AGE, fitFA: UF_FIT_FA, color: LINE_COLORS.nonlinear, tension: 0.4,
  },
  {
    title: 'Anterior corona radiata', left: 460, yMin: 0.188, yMax: 0.421,
    yGrid: ACR_Y_GRID, yMajor: ACR_Y_MAJOR, yLabels: ACR_Y_LABELS, points: ACR_POINTS, binFA: ACR_BIN_FA,
    fitAge: ACR_FIT_AGE, fitFA: ACR_FIT_FA, color: LINE_COLORS.linear, tension: 0,
  },
  {
    title: 'Internal capsule posterior limb', left: 788, yMin: 0.451, yMax: 0.703,
    yGrid: ICPL_Y_GRID, yMajor: ICPL_Y_MAJOR, yLabels: ICPL_Y_LABELS, points: ICPL_POINTS, binFA: ICPL_BIN_FA,
    fitAge: ICPL_FIT_AGE, fitFA: ICPL_FIT_FA, color: LINE_COLORS.none, tension: 0,
  },
];

const COL_W = [185, 78, 67, 63, 94, 48, 78];
const ROW_H = 18.52;
const TABLE_LEFT = 239;
const TABLE_TOP = 519;
const HEADER_H = 20;

function Cell({ w, children, style, last }: { w: number; children: any; style?: any; last?: boolean }) {
  return (
    <div
      style={{
        width: w,
        flex: 'none',
        boxSizing: 'border-box',
        borderRight: last ? 'none' : '1px solid #3a3a3a',
        height: '100%',
        display: 'flex',
        alignItems: 'center',
        justifyContent: 'center',
        whiteSpace: 'nowrap',
        overflow: 'hidden',
        ...style,
      }}
    >
      {children}
    </div>
  );
}

function Table() {
  const total = COL_W.reduce((a, b) => a + b, 0);
  return (
    <div style={{ position: 'absolute', left: TABLE_LEFT, top: TABLE_TOP, width: total }}>
      <div
        style={{
          display: 'flex',
          height: HEADER_H,
          background: '#141414',
          color: '#fff',
          fontFamily: SANS,
          fontWeight: 'bold',
          fontSize: 13.5,
        }}
      >
        {TABLE_HEADERS.map((h, i) => (
          <Cell key={h} w={COL_W[i]} last>
            <Narrow>{h}</Narrow>
          </Cell>
        ))}
      </div>
      {TRACTS.map((t, r) => {
        const m = MODEL_CHOICE[r];
        const boldLin = m !== 'none';
        const boldNl = (v: string) => m === 'nonlinear' || v.includes('*');
        const num = (bold: boolean) => ({
          fontWeight: bold ? 'bold' : 'normal',
          color: bold ? '#161616' : '#4a4a4a',
        });
        return (
          <div
            key={t}
            style={{
              position: 'absolute',
              left: 0,
              top: HEADER_H + r * ROW_H,
              width: total,
              height: ROW_H,
              display: 'flex',
              boxSizing: 'border-box',
              background: r % 2 === 1 ? '#e8e8e8' : '#ffffff',
              borderBottom: '1px solid #3a3a3a',
              borderLeft: '2px solid #222',
              borderRight: '2px solid #222',
              fontFamily: SANS,
              fontSize: 13.5,
            }}
          >
            <Cell w={COL_W[0] - 2} style={{ justifyContent: 'flex-start', paddingLeft: 1, fontWeight: 'bold', fontSize: 11.7, color: '#151515' }}>
              <Narrow origin="left center">{t}</Narrow>
            </Cell>
            <Cell w={COL_W[1]} style={{ fontWeight: 'bold', color: TABLE_COLORS[m] }}><Narrow>{m}</Narrow></Cell>
            <Cell w={COL_W[2]} style={{ color: '#4a4a4a' }}><Narrow>{N_OBS[r]}</Narrow></Cell>
            <Cell w={COL_W[3]} style={num(boldLin)}><Narrow>{P_LINEAR[r]}</Narrow></Cell>
            <Cell w={COL_W[4]} style={num(boldNl(P_NONLINEAR[r]))}><Narrow>{P_NONLINEAR[r]}</Narrow></Cell>
            <Cell w={COL_W[5]} style={num(boldNl(DELTA_AIC[r]))}><Narrow>{DELTA_AIC[r]}</Narrow></Cell>
            <Cell w={COL_W[6] - 2} last style={num(boldNl(OMEGA_NONLINEAR[r]))}><Narrow>{OMEGA_NONLINEAR[r]}</Narrow></Cell>
          </div>
        );
      })}
    </div>
  );
}

function Legend() {
  const lines = [667, 810, 912];
  const texts = [707, 852, 953];
  return (
    <>
      <div style={{ position: 'absolute', left: 502, top: 458, height: 30, lineHeight: '30px', fontFamily: SANS, fontWeight: 'bold', fontSize: 25, color: '#111', whiteSpace: 'nowrap' }}>
        {LEGEND_TITLE}
      </div>
      {LEGEND_ITEMS.map((k, i) => (
        <React.Fragment key={k}>
          <div style={{ position: 'absolute', left: lines[i], top: 471, width: 25, height: 4, background: LEGEND_COLORS[k] }} />
          <div style={{ position: 'absolute', left: texts[i], top: 461, height: 26, lineHeight: '26px', fontFamily: SANS, fontWeight: 'bold', fontSize: 20, color: '#111', whiteSpace: 'nowrap' }}>
            {k}
          </div>
        </React.Fragment>
      ))}
    </>
  );
}

export default function App() {
  return (
    <div style={{ position: 'absolute', left: 0, top: 0, width: 1065, height: 1057, background: '#ffffff', overflow: 'hidden' }}>
      {PANELS.map((p) => (
        <Panel key={p.title} cfg={p} />
      ))}
      <div
        style={{
          position: 'absolute',
          left: 51 - 200,
          top: 219 - 16,
          width: 400,
          height: 32,
          lineHeight: '32px',
          textAlign: 'center',
          transform: 'rotate(-90deg)',
          fontFamily: SANS,
          fontWeight: 'bold',
          fontSize: 27,
          color: '#111',
          whiteSpace: 'nowrap',
        }}
      >
        Fractional Anisotropy (FA)
      </div>
      <div
        style={{
          position: 'absolute',
          left: 257 - 100,
          top: 438,
          width: 200,
          height: 30,
          lineHeight: '30px',
          textAlign: 'center',
          fontFamily: SANS,
          fontWeight: 'bold',
          fontSize: 26,
          color: '#111',
        }}
      >
        Age
      </div>
      <Legend />
      <Table />
    </div>
  );
}
